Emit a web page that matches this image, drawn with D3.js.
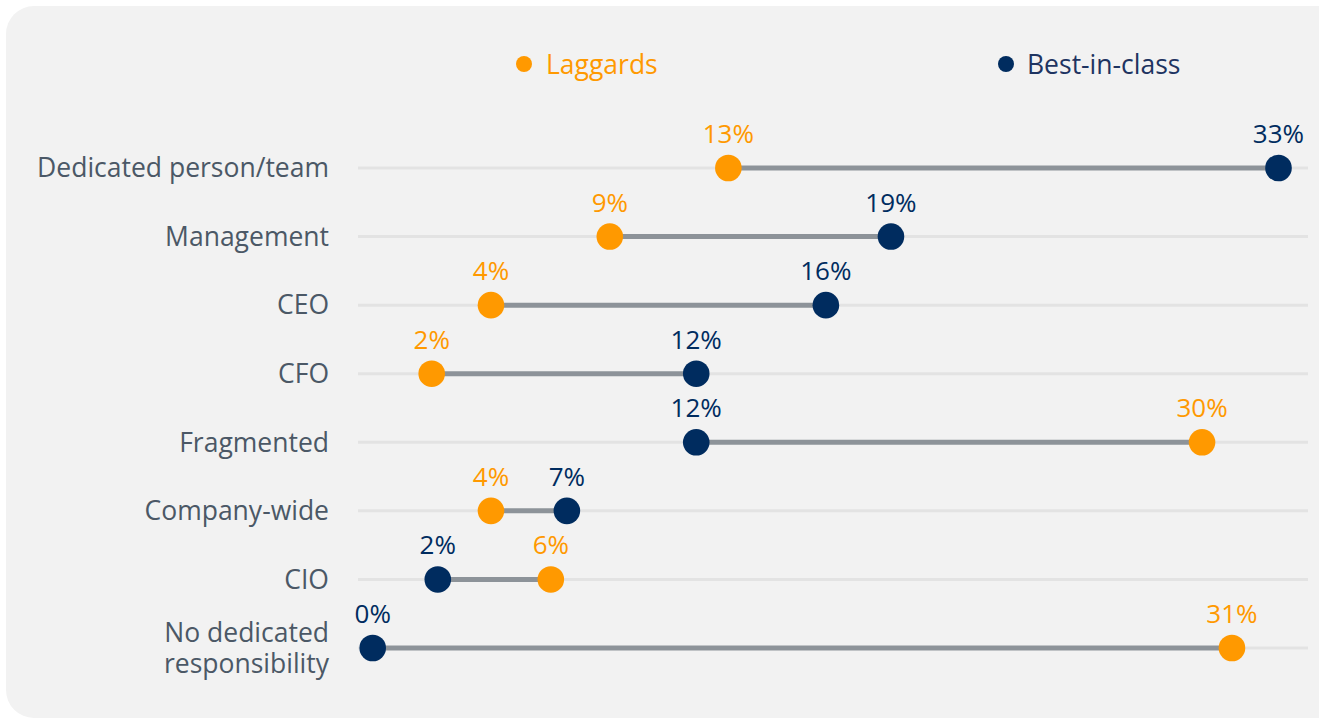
<!DOCTYPE html>
<html lang="en">
<head>
  <meta charset="utf-8">
  <title>Responsibility: Laggards vs Best-in-class</title>
  <script src="https://cdn.jsdelivr.net/npm/d3@7"></script>
  <style>
    html, body { margin: 0; padding: 0; background: #ffffff; }
    svg { display: block; font-family: "Open Sans", "Noto Sans", sans-serif; }
    .cat { fill: #4b5866; font-size: 26.5px; }
    .val { font-size: 26px; }
    .legend text { font-size: 26.5px; }
  </style>
</head>
<body>
  <div id="box"></div>
  <script>
    const width = 1319
    const height = 720

    // data
    const categories = ['Dedicated person/team', 'Management', 'CEO', 'CFO',
      'Fragmented', 'Company-wide', 'CIO', 'No dedicated responsibility']
    const laggards = [12.84, 8.56, 4.27, 2.13, 29.94, 4.27, 6.43, 31.02]
    const bestInClass = [32.70, 18.71, 16.36, 11.68, 11.68, 7.01, 2.35, 0]
    const seriesNames = ['Laggards', 'Best-in-class']

    const orange = '#ff9900'
    const navy = '#002c5f'

    const svg = d3.select('#box').append('svg')
      .attr('width', width)
      .attr('height', height)

    // panel
    svg.append('rect')
      .attr('x', 6).attr('y', 6)
      .attr('width', 1360).attr('height', 712)
      .attr('rx', 28)
      .attr('fill', '#f2f2f2')

    const xScale = d3.scaleLinear()
      .domain([0, 34])
      .range([372.7, 372.7 + 34 * 27.7])

    const yScale = d3.scalePoint()
      .domain(categories)
      .range([168, 648])

    const fmt = v => d3.format('.0f')(v) + '%'

    // grid lines
    svg.append('g').selectAll('line')
      .data(categories)
      .join('line')
      .attr('x1', 358).attr('x2', 1308)
      .attr('y1', d => yScale(d)).attr('y2', d => yScale(d))
      .attr('stroke', '#e3e3e3')
      .attr('stroke-width', 3)

    // category labels
    const cats = svg.append('g').selectAll('text')
      .data(categories)
      .join('text')
      .attr('class', 'cat')
      .attr('text-anchor', 'end')
      .attr('x', 329)
      .attr('y', d => yScale(d))

    cats.each(function(d) {
      const t = d3.select(this)
      const lines = d === 'No dedicated responsibility' ? ['No dedicated', 'responsibility'] : [d]
      const lh = 31
      lines.forEach((l, i) => {
        t.append('tspan')
          .attr('x', 329)
          .attr('dy', i === 0 ? (0.35 * 26.5 - (lines.length - 1) * lh / 2) : lh)
          .text(l)
      })
    })

    const rows = categories.map((c, i) => ({ cat: c, lag: laggards[i], best: bestInClass[i] }))

    // connectors
    svg.append('g').selectAll('line')
      .data(rows)
      .join('line')
      .attr('x1', d => xScale(d.lag))
      .attr('x2', d => xScale(d.best))
      .attr('y1', d => yScale(d.cat))
      .attr('y2', d => yScale(d.cat))
      .attr('stroke', '#8d9399')
      .attr('stroke-width', 5)

    // dots + labels
    const series = [
      { name: seriesNames[0], values: laggards, color: orange },
      { name: seriesNames[1], values: bestInClass, color: navy }
    ]

    series.forEach(s => {
      const g = svg.append('g')
      g.selectAll('circle')
        .data(s.values)
        .join('circle')
        .attr('cx', d => xScale(d))
        .attr('cy', (d, i) => yScale(categories[i]))
        .attr('r', 13.3)
        .attr('fill', s.color)

      g.selectAll('text')
        .data(s.values)
        .join('text')
        .attr('class', 'val')
        .attr('text-anchor', 'middle')
        .attr('x', d => xScale(d))
        .attr('y', (d, i) => yScale(categories[i]) - 25)
        .attr('fill', s.color)
        .text(d => fmt(d))
    })

    // legend
    const legendPos = [{ cx: 524, tx: 546 }, { cx: 1006, tx: 1027 }]
    const legend = svg.append('g').attr('class', 'legend')
    series.forEach((s, i) => {
      legend.append('circle')
        .attr('cx', legendPos[i].cx).attr('cy', 64)
        .attr('r', 8)
        .attr('fill', s.color)
      legend.append('text')
        .attr('x', legendPos[i].tx).attr('y', 73.5)
        .attr('fill', i === 0 ? orange : '#1e3461')
        .text(s.name)
    })
  </script>
</body>
</html>
